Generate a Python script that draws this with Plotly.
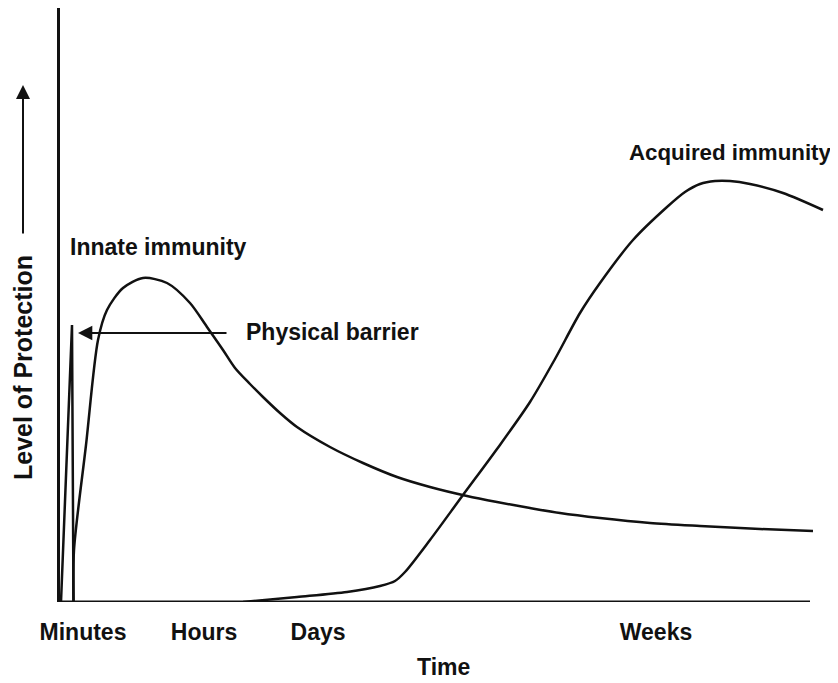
import plotly.graph_objects as go

# Time axis in arbitrary units (0 = origin), protection level in arbitrary units
phys_x = [1, 12, 13.5]
phys_y = [0, 277, 0]

innate_x = [13.5, 14, 26, 38, 47, 63, 83, 107, 130, 147, 163, 175, 190, 203, 220, 237, 270,
            303, 337, 370, 407, 437, 470, 500, 540, 590, 640, 700, 753]
innate_y = [0, 52, 157, 262, 292, 314, 324, 319, 299, 275, 252, 234, 218, 205, 189, 175, 155,
            139, 125, 115, 106, 100, 94, 89, 84, 79, 76, 73, 71]

acq_x = [183, 237, 287, 320, 335, 345, 370, 403, 437, 470, 495, 520, 540, 573, 607,
         625, 640, 655, 670, 690, 723, 763]
acq_y = [0, 5, 10, 16, 21, 30, 62, 107, 153, 200, 243, 289, 319, 362, 395,
         410, 418, 421, 421, 418, 409, 392]

tick_vals = [23, 144, 258, 596]
tick_text = ["Minutes", "Hours", "Days", "Weeks"]

FONT = "Liberation Sans, Arial, sans-serif"
BLACK = "#111111"

fig = go.Figure()
fig.add_trace(go.Scatter(x=phys_x, y=phys_y, mode="lines",
                         line=dict(color=BLACK, width=2.5), hoverinfo="skip"))
fig.add_trace(go.Scatter(x=innate_x, y=innate_y, mode="lines",
                         line=dict(color=BLACK, width=2.5, shape="spline", smoothing=0.8),
                         hoverinfo="skip"))
fig.add_trace(go.Scatter(x=acq_x, y=acq_y, mode="lines",
                         line=dict(color=BLACK, width=2.5, shape="spline", smoothing=0.8),
                         hoverinfo="skip"))

# x-axis baseline (ends before the right edge of the plotting area)
fig.add_shape(type="line", x0=0, x1=750, y0=0, y1=0, xref="x", yref="y",
              line=dict(color=BLACK, width=3))

lbl = dict(family=FONT, size=23, color=BLACK, weight="bold")
albl = dict(family=FONT, size=22.3, color=BLACK, weight="bold")
ylbl = dict(family=FONT, size=25, color=BLACK, weight="bold")

fig.add_annotation(x=8, y=355, text="Innate immunity", showarrow=False,
                   xanchor="left", yanchor="middle", font=lbl)
fig.add_annotation(x=184, y=270, text="Physical barrier", showarrow=False,
                   xanchor="left", yanchor="middle", font=lbl)
fig.add_annotation(x=568, y=450, text="Acquired immunity", showarrow=False,
                   xanchor="left", yanchor="middle", font=albl, borderpad=0)

# arrow pointing to physical barrier spike
fig.add_annotation(x=18, y=269, ax=168, ay=269, axref="x", ayref="y",
                   text="", showarrow=True, arrowhead=2, arrowsize=1.3,
                   arrowwidth=2.2, arrowcolor=BLACK)

PH = 594.0  # plot height in px
# y-axis direction arrow and title
fig.add_annotation(x=-37 / 770, y=(602 - 85) / PH, xref="paper", yref="paper",
                   ax=0, ay=150, text="", showarrow=True, arrowhead=2,
                   arrowsize=1.4, arrowwidth=2, arrowcolor=BLACK)
fig.add_annotation(x=-37 / 770, y=(602 - 368) / PH, xref="paper", yref="paper",
                   text="Level of Protection", textangle=-90, showarrow=False,
                   xanchor="center", yanchor="middle", font=ylbl)

# x-axis title
fig.add_annotation(x=383, y=0, xref="x", yref="paper", yshift=-65,
                   text="Time", showarrow=False, xanchor="center",
                   yanchor="middle", font=lbl)

fig.update_layout(
    width=830, height=675,
    margin=dict(l=52, r=8, t=0, b=81),
    paper_bgcolor="white", plot_bgcolor="white",
    showlegend=False,
    xaxis=dict(range=[0, 770], showgrid=False, zeroline=False, showline=False,
               tickmode="array", tickvals=tick_vals, ticktext=tick_text,
               ticks="", tickfont=lbl, ticklabelstandoff=14, fixedrange=True),
    yaxis=dict(range=[0, 594], showgrid=False, zeroline=False, showline=True,
               linecolor=BLACK, linewidth=3, showticklabels=False, ticks="",
               fixedrange=True),
)

fig.write_html("out.html")
